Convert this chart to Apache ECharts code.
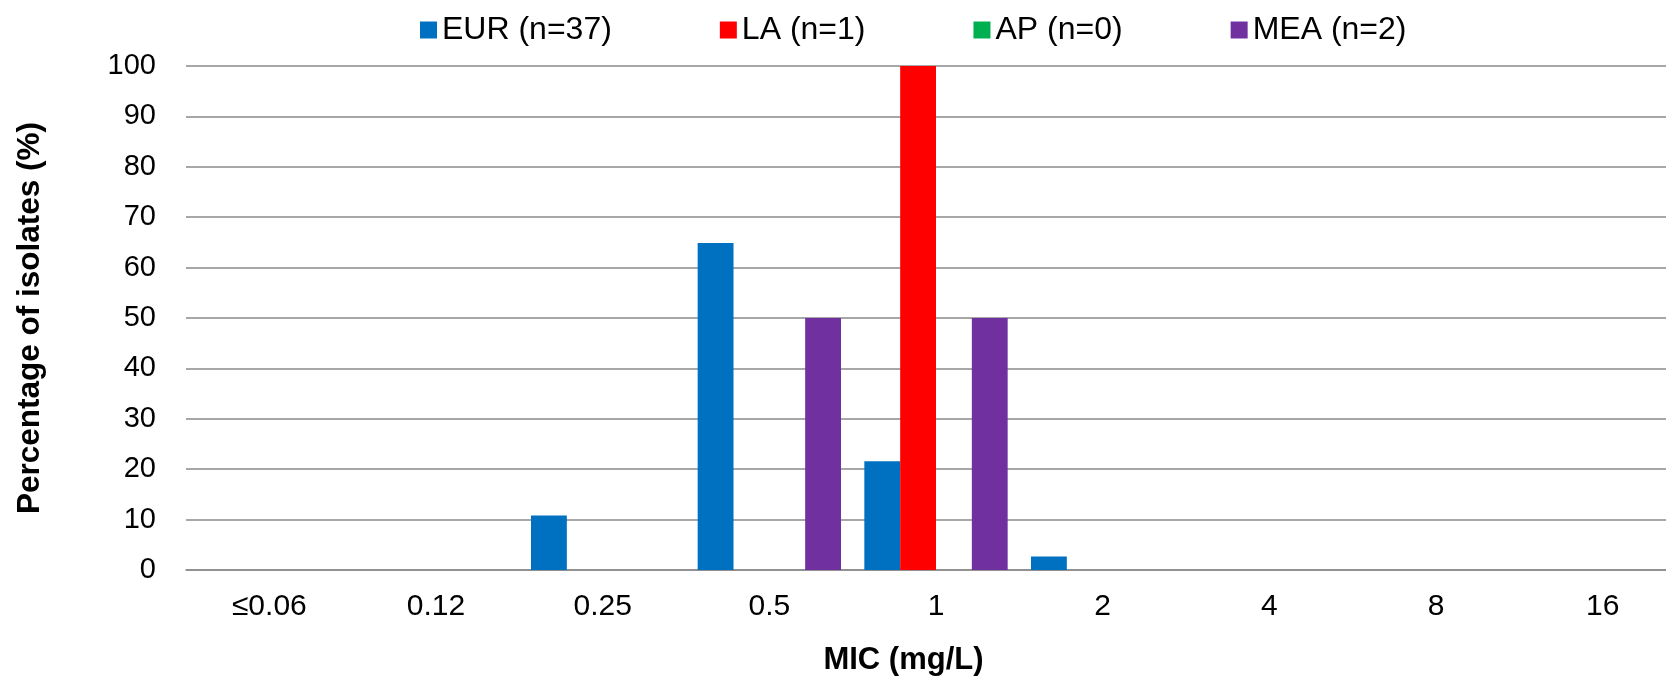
<!DOCTYPE html>
<html>
<head>
<meta charset="utf-8">
<script src="https://cdn.jsdelivr.net/npm/echarts@6/dist/echarts.min.js"></script>
<style>
  html, body { margin: 0; padding: 0; background: #fff; }
  #chart { width: 1666px; height: 681px; }
</style>
</head>
<body>
<div id="chart"></div>
<script>
const micLabels = ['≤0.06', '0.12', '0.25', '0.5', '1', '2', '4', '8', '16']
const eurValues = [0, 0, 10.8, 64.9, 21.6, 2.7, 0, 0, 0]
const laValues = [0, 0, 0, 0, 100, 0, 0, 0, 0]
const apValues = [0, 0, 0, 0, 0, 0, 0, 0, 0]
const meaValues = [0, 0, 0, 50, 50, 0, 0, 0, 0]

const seriesNames = ['EUR (n=37)', 'LA (n=1)', 'AP (n=0)', 'MEA (n=2)']
const seriesColors = ['#0070C0', '#FF0000', '#00B050', '#7030A0']
const seriesValues = [eurValues, laValues, apValues, meaValues]

const font = '"Liberation Sans", Arial, sans-serif'
const gridColor = '#8a8a8a'

const chart = echarts.init(document.getElementById('chart'))

const option = {
  animation: false,
  backgroundColor: '#fff',
  textStyle: { fontFamily: font },
  legend: {
    left: 415,
    top: 8,
    itemWidth: 17,
    itemHeight: 17,
    itemGap: 108,
    icon: 'rect',
    textStyle: { fontSize: 32, color: '#000', fontFamily: font, lineHeight: 34 },
    data: seriesNames
  },
  grid: {
    left: 186,
    top: 66,
    width: 1500,
    height: 504,
    containLabel: false,
    outerBoundsMode: 'none'
  },
  xAxis: {
    type: 'category',
    data: micLabels,
    name: 'MIC (mg/L)',
    nameLocation: 'middle',
    nameGap: 75,
    nameTextStyle: { fontSize: 31, fontWeight: 'bold', color: '#000', fontFamily: font, padding: [0, 65, 0, 0] },
    axisLine: { lineStyle: { color: gridColor, width: 1.5 } },
    axisTick: { show: false },
    axisLabel: { fontSize: 30, color: '#000', margin: 22, fontFamily: font }
  },
  yAxis: {
    type: 'value',
    min: 0,
    max: 100,
    interval: 10,
    name: 'Percentage of isolates (%)',
    nameLocation: 'middle',
    nameGap: 140,
    nameTextStyle: { fontSize: 31.5, fontWeight: 'bold', color: '#000', fontFamily: font },
    axisLine: { show: false },
    axisTick: { show: false },
    axisLabel: { fontSize: 29, color: '#000', margin: 30, fontFamily: font },
    splitLine: { lineStyle: { color: gridColor, width: 1.5 } }
  },
  series: seriesNames.map((name, i) => ({
    name: name,
    type: 'bar',
    data: seriesValues[i],
    barGap: '0%',
    barCategoryGap: '14%',
    itemStyle: { color: seriesColors[i] }
  }))
}

chart.setOption(option)
</script>
</body>
</html>
